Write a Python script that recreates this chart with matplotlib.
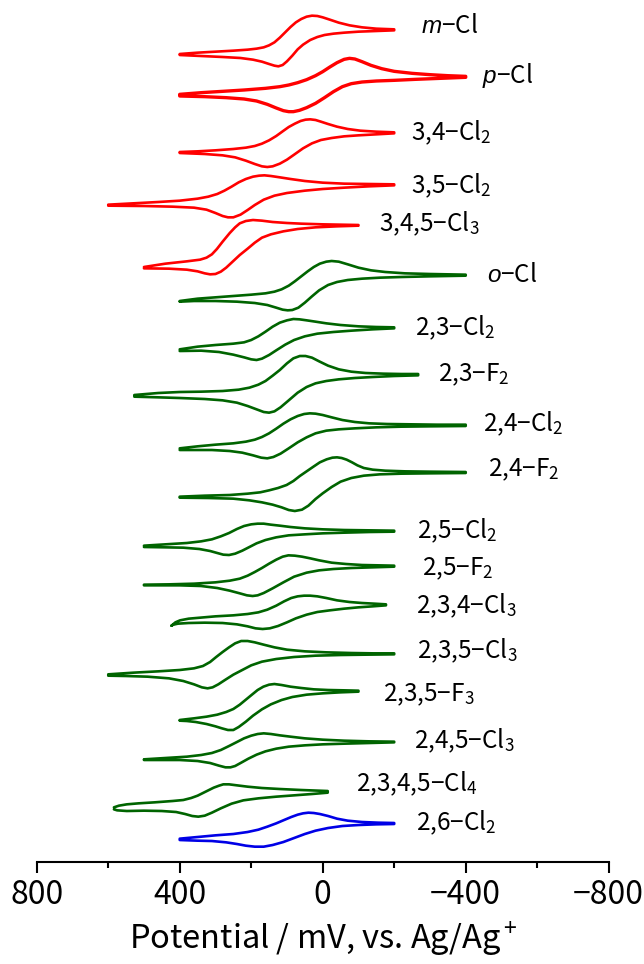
import matplotlib
matplotlib.use("Agg")
import matplotlib.pyplot as plt
from matplotlib.ticker import FixedLocator

plt.rcParams['font.family'] = ['Noto Sans CJK JP', 'DejaVu Sans']
plt.rcParams['mathtext.fontset'] = 'custom'
plt.rcParams['mathtext.rm'] = 'Noto Sans CJK JP'
plt.rcParams['mathtext.it'] = 'Liberation Sans:italic'
plt.rcParams['mathtext.bf'] = 'Noto Sans CJK JP:bold'

# ---- data: potential (mV vs Ag/Ag+) and current (a.u.); upper branch then lower branch
mCl_E = [400,350,300,250,210,185,165,150,135,120,105,90,75,60,45,30,15,0,-20,-45,-75,-110,-150,-200,
         -200,-150,-100,-60,-30,-5,15,35,55,70,85,100,112,124,135,150,170,195,230,280,340,400]
mCl_I = [-73,-69,-66,-63,-60,-57,-53,-47,-38,-24,-8,8,22,32,39,42,41,37,30,21,13,7,3,1,
         -2,-4,-6,-9,-12,-16,-22,-31,-45,-59,-78,-95,-106,-110,-108,-103,-96,-90,-85,-82,-79,-76]

pCl_E = [400,340,280,220,160,120,95,70,45,20,0,-20,-40,-60,-75,-90,-110,-135,-165,-200,-250,-300,-350,-400,
         -400,-330,-260,-200,-150,-110,-80,-55,-30,-5,20,45,65,82,95,110,130,155,185,220,270,330,400]
pCl_I = [-53,-48,-44,-40,-35,-30,-25,-18,-9,3,15,29,42,52,55,53,45,34,24,16,10,6,3,1,
         -2,-5,-8,-11,-13,-16,-21,-30,-45,-63,-80,-93,-101,-105,-105,-102,-94,-83,-73,-67,-63,-60,-58]

Cl34_E = [400,350,300,250,215,190,170,150,130,112,95,78,62,48,35,20,5,-15,-40,-70,-105,-150,-200,
          -200,-150,-100,-60,-25,5,30,55,80,100,120,140,155,170,190,215,245,280,330,400]
Cl34_I = [-58,-56,-53,-49,-45,-40,-33,-23,-10,4,17,27,35,39,40,38,33,26,18,11,6,3,1,
          -2,-5,-8,-11,-16,-22,-32,-47,-66,-81,-93,-101,-103,-101,-94,-84,-74,-68,-64,-61]

Cl35_E = [600,530,460,400,350,320,295,275,255,235,215,195,178,163,145,120,90,50,0,-60,-130,-200,
          -200,-130,-60,0,50,100,135,165,190,210,230,250,265,280,300,325,360,420,500,600]
Cl35_I = [-60,-56,-52,-48,-42,-36,-28,-18,-6,7,17,24,27,28,26,22,17,11,6,3,2,1,
          -2,-5,-9,-13,-18,-25,-33,-45,-61,-76,-90,-98,-98,-94,-85,-75,-69,-66,-64,-63]

Cl345_E = [500,440,380,343,325,310,296,280,260,245,232,215,195,170,140,100,60,0,-50,-100,
           -100,-40,20,70,110,145,170,190,210,232,252,270,285,300,315,330,350,380,430,500]
Cl345_I = [-126,-116,-109,-104,-98,-88,-72,-50,-24,-7,5,12,15,13,9,6,4,2,1,0,
           -2,-4,-7,-12,-19,-28,-38,-53,-71,-90,-110,-128,-140,-147,-148,-145,-139,-134,-131,-130]

oCl_E = [400,350,300,250,200,160,135,115,95,78,60,42,25,8,-10,-25,-45,-70,-100,-135,-175,-230,-300,-400,
         -400,-300,-220,-160,-110,-70,-40,-15,10,30,50,68,85,98,112,130,155,190,240,300,360,400]
oCl_I = [-78,-71,-67,-63,-59,-55,-50,-43,-32,-19,-4,11,24,34,40,42,40,32,22,14,9,5,3,1,
         -2,-4,-6,-8,-11,-15,-21,-30,-46,-64,-83,-98,-105,-106,-104,-98,-90,-84,-80,-78,-78,-80]

Cl23_E = [400,350,300,250,220,200,180,160,140,120,100,82,65,45,20,-10,-50,-100,-150,-200,
          -200,-140,-80,-30,15,50,80,105,130,150,170,185,200,220,250,290,340,400]
Cl23_I = [-65,-57,-52,-48,-44,-37,-26,-12,3,15,22,26,25,22,18,13,8,4,2,1,
          -2,-5,-9,-13,-18,-26,-37,-51,-68,-82,-93,-97,-95,-89,-81,-73,-69,-70]

F23_E = [527,460,400,340,280,235,205,180,160,140,120,100,82,64,48,30,10,-15,-45,-80,-120,-170,-220,-267,
         -267,-200,-140,-90,-45,-10,20,45,70,95,118,135,150,165,185,210,240,280,330,400,460,527]
F23_I = [-63,-57,-54,-53,-51,-47,-41,-32,-21,-5,12,32,47,54,54,49,38,25,14,7,3,1,0,0,
         -4,-6,-9,-12,-16,-21,-28,-39,-56,-79,-100,-112,-116,-114,-106,-96,-86,-79,-75,-72,-70,-68]

Cl24_E = [400,350,300,250,215,190,170,150,130,110,90,70,52,36,20,0,-25,-55,-90,-130,-180,-250,-320,-400,
          -400,-300,-220,-150,-90,-45,-10,20,45,70,95,118,138,155,172,195,225,260,310,360,400]
Cl24_I = [-70,-64,-59,-55,-50,-44,-36,-25,-11,4,17,27,33,35,34,30,23,15,9,5,3,2,1,1,
          -3,-4,-5,-7,-10,-13,-17,-25,-37,-52,-70,-86,-96,-100,-98,-91,-83,-78,-75,-75,-75]

F24_E = [400,330,260,210,175,150,125,101,82,64,45,26,8,-11,-27,-40,-53,-67,-82,-97,-115,-140,-175,-230,-300,-400,
         -400,-300,-220,-160,-115,-80,-50,-25,0,20,40,58,78,95,115,140,170,205,250,320,400]
F24_I = [-73,-70,-68,-64,-60,-54,-47,-38,-26,-11,3,17,30,39,44,45,43,38,30,21,13,8,5,3,2,1,
         -2,-3,-4,-6,-10,-17,-28,-44,-63,-80,-100,-112,-116,-113,-105,-97,-90,-84,-79,-77,-76]

Cl25_E = [500,440,380,340,310,285,262,240,220,200,182,165,145,120,90,50,0,-60,-130,-200,
          -200,-130,-60,0,50,95,130,160,185,205,225,245,262,278,295,315,345,390,440,500]
Cl25_I = [-44,-40,-36,-31,-25,-16,-6,6,15,20,22,22,19,16,12,8,5,3,2,1,
          -2,-3,-5,-7,-10,-13,-19,-27,-37,-48,-59,-68,-72,-71,-66,-60,-54,-50,-49,-48]

F25_E = [500,430,360,300,260,232,210,190,170,150,130,112,96,78,58,35,10,-25,-65,-110,-155,-200,
         -200,-140,-80,-30,10,45,80,110,140,165,182,196,212,232,260,295,340,400,460,500]
F25_I = [-56,-55,-53,-49,-44,-38,-29,-18,-6,7,19,28,32,31,28,23,17,10,6,3,2,1,
         -2,-4,-6,-9,-13,-20,-32,-49,-67,-81,-88,-90,-88,-82,-74,-66,-60,-58,-58,-58]

Cl234_E = [423,412,399,375,343,300,250,210,180,155,130,108,88,70,52,35,15,-10,-40,-75,-110,-145,-177,
           -177,-140,-100,-60,-20,15,45,75,100,125,148,168,188,210,240,280,330,375,405,418,423]
Cl234_I = [-64,-54,-48,-43,-40,-36,-33,-29,-24,-16,-4,9,19,24,26,26,24,19,12,7,4,2,0,
           -3,-6,-9,-13,-18,-23,-31,-42,-54,-65,-72,-74,-72,-66,-60,-56,-55,-56,-58,-61,-64]

Cl235_E = [600,530,460,400,360,335,315,298,280,262,245,228,210,190,165,135,100,50,-10,-80,-140,-200,
           -200,-120,-50,20,80,130,170,200,225,250,272,292,308,322,338,360,390,430,490,550,600]
Cl235_I = [-63,-58,-54,-50,-45,-38,-26,-11,4,18,30,37,37,33,26,18,11,6,3,1,0,0,
           -3,-4,-5,-7,-11,-17,-25,-36,-50,-64,-79,-93,-102,-105,-102,-93,-83,-75,-70,-68,-67]

F235_E = [400,360,325,295,270,250,232,215,198,182,166,150,135,115,90,60,25,-15,-60,-100,
          -100,-50,0,45,85,115,145,170,195,215,235,250,265,282,300,325,355,380,400]
F235_I = [-87,-82,-77,-71,-63,-54,-41,-26,-11,3,13,19,21,18,13,9,5,3,2,1,
          -2,-4,-7,-11,-18,-27,-40,-55,-74,-92,-108,-117,-117,-112,-106,-99,-93,-90,-89]

Cl245_E = [500,440,380,340,310,285,262,240,220,200,182,165,145,120,90,50,0,-60,-130,-200,
           -200,-130,-60,0,50,95,130,160,185,208,228,245,258,272,290,315,350,400,450,500]
Cl245_I = [-53,-49,-45,-40,-34,-25,-13,-1,10,18,23,25,23,19,15,10,6,3,1,0,
           -2,-4,-6,-8,-11,-15,-21,-29,-39,-51,-63,-73,-77,-77,-72,-64,-58,-55,-55,-55]

Cl2345_E = [584,570,548,515,470,420,390,368,350,335,320,305,290,278,262,240,210,170,120,60,-14,
            -14,30,80,130,180,222,255,285,310,330,348,365,385,410,450,500,548,575,584]
Cl2345_I = [-47,-42,-38,-35,-32,-28,-25,-19,-12,-4,4,12,18,22,22,19,15,11,8,5,2,
            -3,-7,-11,-15,-20,-26,-36,-50,-63,-72,-75,-73,-67,-61,-58,-57,-58,-56,-53]

Cl26_E = [400,350,300,250,210,180,155,130,108,88,70,55,40,25,8,-15,-40,-70,-110,-155,-200,
          -200,-150,-100,-55,-15,20,50,80,110,140,165,190,215,240,270,310,350,400]
Cl26_I = [-46,-41,-36,-32,-26,-19,-10,0,10,19,26,30,32,31,28,22,14,8,4,2,1,
          -2,-3,-5,-8,-14,-22,-32,-44,-56,-65,-70,-70,-67,-62,-57,-53,-52,-50]

labels = ['$\\mathit{m}$\u2212Cl', '$\\mathit{p}$\u2212Cl', '3,4\u2212Cl$_2$', '3,5\u2212Cl$_2$',
          '3,4,5\u2212Cl$_3$', '$\\mathit{o}$\u2212Cl', '2,3\u2212Cl$_2$', '2,3\u2212F$_2$',
          '2,4\u2212Cl$_2$', '2,4\u2212F$_2$', '2,5\u2212Cl$_2$', '2,5\u2212F$_2$',
          '2,3,4\u2212Cl$_3$', '2,3,5\u2212Cl$_3$', '2,3,5\u2212F$_3$', '2,4,5\u2212Cl$_3$',
          '2,3,4,5\u2212Cl$_4$', '2,6\u2212Cl$_2$']
potentials = [mCl_E, pCl_E, Cl34_E, Cl35_E, Cl345_E, oCl_E, Cl23_E, F23_E, Cl24_E, F24_E,
              Cl25_E, F25_E, Cl234_E, Cl235_E, F235_E, Cl245_E, Cl2345_E, Cl26_E]
currents = [mCl_I, pCl_I, Cl34_I, Cl35_I, Cl345_I, oCl_I, Cl23_I, F23_I, Cl24_I, F24_I,
            Cl25_I, F25_I, Cl234_I, Cl235_I, F235_I, Cl245_I, Cl2345_I, Cl26_I]
groups = ['meta/para'] * 5 + ['ortho'] * 12 + ['2,6']

# ---- layout / style
offsets = [2497, 2356, 2188, 2032, 1911, 1761, 1603, 1464, 1311, 1169,
           993, 888, 773, 626, 513, 361, 211, 116]
label_x = [-274, -445, -246, -246, -158, -459, -258, -323, -449, -463,
           -263, -277, -261, -265, -168, -255, -93, -261]
label_y = [2486, 2338, 2166, 2006, 1891, 1741, 1581, 1441, 1291, 1156,
           971, 861, 746, 611, 481, 341, 211, 96]
colors = {'meta/para': '#ff0000', 'ortho': '#006400', '2,6': '#0000e6'}

fig = plt.figure(figsize=(6.44, 9.64), dpi=100)
ax = fig.add_axes([0.057, 0.1058, 0.8882, 0.8942])

for i in range(len(labels)):
    y = [offsets[i] + c for c in currents[i]]
    lw = 2.4 if i == 1 else 1.9
    ax.plot(potentials[i], y, color=colors[groups[i]], lw=lw,
            solid_joinstyle='round', solid_capstyle='round')
    ax.text(label_x[i], label_y[i], labels[i], fontsize=17.5, ha='left',
            va='baseline', color='black')

ax.set_xlim(800, -800)
ax.set_ylim(0, 2586)
ax.xaxis.set_major_locator(FixedLocator([800, 400, 0, -400, -800]))
ax.xaxis.set_minor_locator(FixedLocator([600, 200, -200, -600]))
ax.set_xticklabels(['800', '400', '0', '\u2212400', '\u2212800'])
ax.tick_params(axis='x', which='major', length=8, width=1.5, labelsize=23, pad=4)
ax.tick_params(axis='x', which='minor', length=4.5, width=1.5)
ax.set_yticks([])
for s in ['left', 'right', 'top']:
    ax.spines[s].set_visible(False)
ax.spines['bottom'].set_linewidth(1.5)
ax.set_xlabel('Potential / mV, vs. Ag/Ag$^+$', fontsize=23.5, labelpad=6)

fig.savefig('out.png', dpi=100)
